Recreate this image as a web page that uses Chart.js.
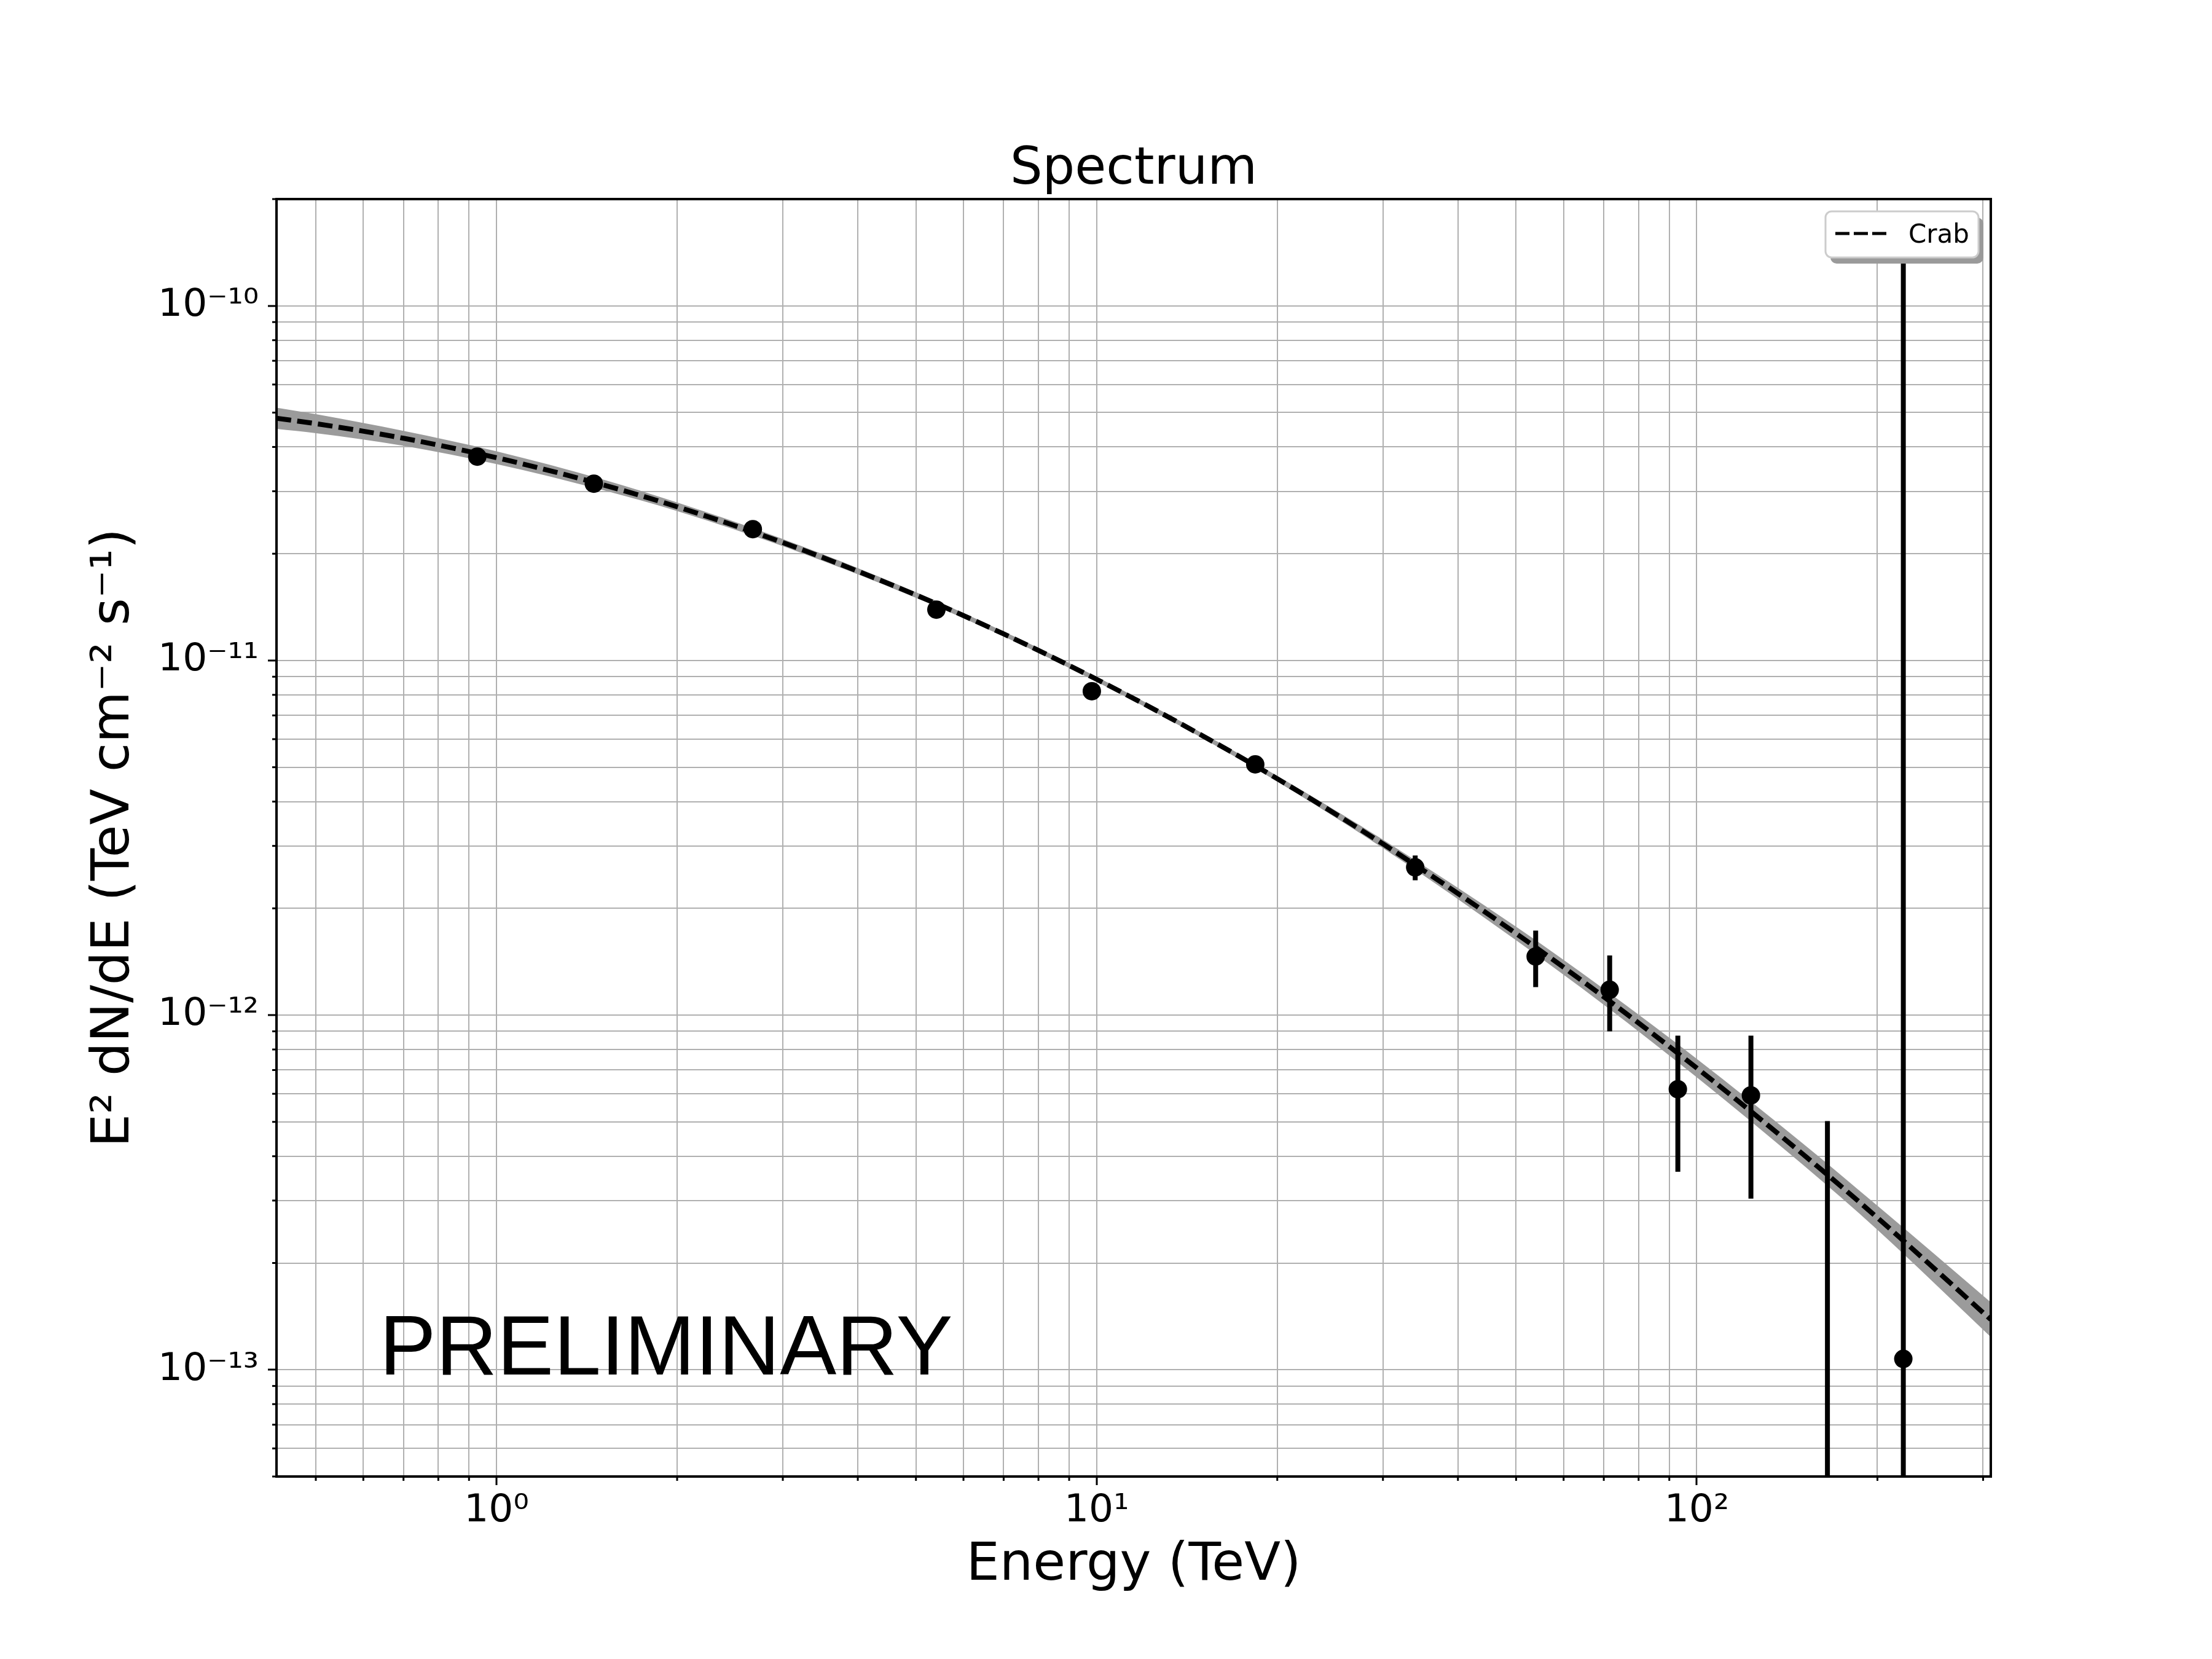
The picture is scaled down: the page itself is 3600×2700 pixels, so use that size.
<!DOCTYPE html>
<html lang="en">
<head>
    <meta charset="UTF-8">
    <title>Spectrum</title>
    <script src="https://cdn.jsdelivr.net/npm/chart.js"></script>
    <style>
        body { margin: 0; background: #fff; }
        canvas { display: block; }
    </style>
</head>
<body>

<canvas id="spectrum" width="3600" height="2700" style="width:3600px;height:2700px"></canvas>

<script>
    // model curve (E^2 dN/dE) and its error band
    const curveE  = [0.43, 0.5, 0.7, 1, 1.5, 2, 3, 5, 7, 10, 15, 20, 30, 50, 70, 100, 150, 200, 309];
    const curveF  = [4.819e-11, 4.654e-11, 4.232e-11, 3.731e-11, 3.133e-11, 2.713e-11, 2.150e-11, 1.530e-11, 1.188e-11,
                     8.851e-12, 6.140e-12, 4.641e-12, 3.039e-12, 1.699e-12, 1.126e-12, 7.093e-13, 4.064e-13, 2.683e-13, 1.385e-13];
    const bandHi  = [5.164e-11, 4.952e-11, 4.441e-11, 3.889e-11, 3.243e-11, 2.789e-11, 2.200e-11, 1.558e-11, 1.207e-11,
                     8.995e-12, 6.240e-12, 4.727e-12, 3.124e-12, 1.775e-12, 1.185e-12, 7.531e-13, 4.355e-13, 2.901e-13, 1.550e-13];
    const bandLo  = [4.497e-11, 4.374e-11, 4.032e-11, 3.580e-11, 3.027e-11, 2.639e-11, 2.101e-11, 1.502e-11, 1.169e-11,
                     8.709e-12, 6.042e-12, 4.556e-12, 2.957e-12, 1.626e-12, 1.070e-12, 6.681e-13, 3.793e-13, 2.481e-13, 1.237e-13];

    // flux points
    const pointE  = [0.929, 1.453, 2.674, 5.408, 9.818, 18.38, 33.95, 53.9, 71.6, 93.0, 123.1, 165.1, 220.9];
    const pointF  = [3.757e-11, 3.152e-11, 2.346e-11, 1.391e-11, 8.19e-12, 5.094e-12, 2.610e-12, 1.463e-12, 1.179e-12,
                     6.18e-13, 5.94e-13, null, 1.073e-13];
    const errLo   = [null, null, null, null, null, null, 2.400e-12, 1.199e-12, 9.0e-13, 3.617e-13, 3.038e-13, 1e-15, 1e-15];
    const errHi   = [null, null, null, null, null, null, 2.819e-12, 1.732e-12, 1.473e-12, 8.75e-13, 8.75e-13, 5.025e-13, 1.6e-10];

    // axis ranges and labelled ticks
    const xRange = [0.43, 309];
    const yRange = [5e-14, 2e-10];
    const xMajor = [1, 10, 100];
    const xMajorLabels = ['10\u2070', '10\u00B9', '10\u00B2'];
    const yMajor = [1e-13, 1e-12, 1e-11, 1e-10];
    const yMajorLabels = ['10\u207B\u00B9\u00B3', '10\u207B\u00B9\u00B2', '10\u207B\u00B9\u00B9', '10\u207B\u00B9\u2070'];

    const GRID = '#b0b0b0';

    function logTicks(scale) {
        const ticks = [];
        const lo = Math.floor(Math.log10(scale.min));
        const hi = Math.ceil(Math.log10(scale.max));
        for (let n = lo; n <= hi; n++) {
            for (let m = 1; m <= 9; m++) {
                const v = parseFloat(m + 'e' + n);
                if (v >= scale.min * 0.999 && v <= scale.max * 1.001) {
                    ticks.push({ value: v, major: m === 1 });
                }
            }
        }
        scale.ticks = ticks;
    }

    function labelFor(value, majors, labels) {
        for (let i = 0; i < majors.length; i++) {
            if (Math.abs(value / majors[i] - 1) < 1e-6) return labels[i];
        }
        return '';
    }

    const curvePts = curveE.map((e, i) => ({ x: e, y: curveF[i] }));
    const hiPts = curveE.map((e, i) => ({ x: e, y: bandHi[i] }));
    const loPts = curveE.map((e, i) => ({ x: e, y: bandLo[i] }));
    const fluxPts = pointE.map((e, i) => ({ x: e, y: pointF[i] }));

    // error bars are drawn right after the model line, so the markers sit on top
    const errorBars = {
        id: 'errorBars',
        afterDatasetDraw(chart, args) {
            if (args.index !== 1) return;
            const { ctx, chartArea, scales } = chart;
            ctx.save();
            ctx.beginPath();
            ctx.rect(chartArea.left, chartArea.top, chartArea.right - chartArea.left, chartArea.bottom - chartArea.top);
            ctx.clip();
            ctx.strokeStyle = '#000';
            ctx.lineWidth = 8;
            for (let i = 0; i < pointE.length; i++) {
                if (errLo[i] === null || errHi[i] === null) continue;
                const x = scales.x.getPixelForValue(pointE[i]);
                const y1 = Math.min(scales.y.getPixelForValue(errLo[i]), chartArea.bottom + 10);
                const y2 = scales.y.getPixelForValue(errHi[i]);
                ctx.beginPath();
                ctx.moveTo(x, y1);
                ctx.lineTo(x, y2);
                ctx.stroke();
            }
            ctx.restore();
        }
    };

    // frame, minor ticks, title, watermark and legend box
    const decorations = {
        id: 'decorations',
        afterDatasetsDraw(chart) {
            const { ctx, chartArea: a, scales } = chart;
            ctx.save();
            ctx.strokeStyle = '#000';
            ctx.lineWidth = 3;
            scales.x.ticks.forEach(t => {
                if (t.major) return;
                const px = scales.x.getPixelForValue(t.value);
                ctx.beginPath(); ctx.moveTo(px, a.bottom); ctx.lineTo(px, a.bottom + 7); ctx.stroke();
            });
            scales.y.ticks.forEach(t => {
                if (t.major) return;
                const py = scales.y.getPixelForValue(t.value);
                ctx.beginPath(); ctx.moveTo(a.left, py); ctx.lineTo(a.left - 7, py); ctx.stroke();
            });
            ctx.lineWidth = 4;
            ctx.strokeRect(a.left, a.top, a.right - a.left, a.bottom - a.top);
            ctx.restore();
        },
        afterDraw(chart) {
            const { ctx, chartArea: a } = chart;
            const w = a.right - a.left, h = a.bottom - a.top;
            ctx.save();
            ctx.fillStyle = '#000';
            ctx.textBaseline = 'alphabetic';

            ctx.font = '83px "DejaVu Sans"';
            ctx.textAlign = 'center';
            ctx.fillText('Spectrum', (a.left + a.right) / 2, a.top - 25);

            ctx.font = '138px "Liberation Sans"';
            ctx.textAlign = 'left';
            ctx.fillText('PRELIMINARY', a.left + 0.06 * w, a.bottom - 0.08 * h);

            // legend
            const bw = 249, bh = 75;
            const bx = a.right - 20 - bw, by = a.top + 20;
            ctx.fillStyle = '#9a9a9a';
            ctx.beginPath(); ctx.roundRect(bx + 8, by + 10, bw, bh, 10); ctx.fill();
            ctx.fillStyle = '#fff';
            ctx.strokeStyle = '#cccccc';
            ctx.lineWidth = 3;
            ctx.beginPath(); ctx.roundRect(bx, by, bw, bh, 10); ctx.fill(); ctx.stroke();
            ctx.strokeStyle = '#000';
            ctx.lineWidth = 5;
            ctx.setLineDash([23, 7]);
            ctx.beginPath(); ctx.moveTo(bx + 16, by + 36); ctx.lineTo(bx + 99, by + 36); ctx.stroke();
            ctx.setLineDash([]);
            ctx.fillStyle = '#000';
            ctx.font = '42px "DejaVu Sans"';
            ctx.fillText('Crab', bx + 135, by + 51);
            ctx.restore();
        }
    };

    Chart.defaults.font.family = '"DejaVu Sans"';
    Chart.defaults.color = '#000';

    new Chart(document.getElementById('spectrum'), {
        type: 'scatter',
        data: {
            datasets: [
                {
                    type: 'scatter',
                    label: 'Flux points',
                    data: fluxPts,
                    backgroundColor: '#000',
                    borderWidth: 0,
                    pointRadius: 15,
                    pointHoverRadius: 15
                },
                {
                    type: 'line',
                    label: 'Crab',
                    data: curvePts,
                    borderColor: '#000',
                    borderWidth: 8,
                    borderDash: [24, 10],
                    pointRadius: 0,
                    fill: false,
                    cubicInterpolationMode: 'monotone'
                },
                {
                    type: 'line',
                    label: 'band high',
                    data: hiPts,
                    borderWidth: 0,
                    pointRadius: 0,
                    backgroundColor: '#9b9b9b',
                    fill: '+1',
                    cubicInterpolationMode: 'monotone'
                },
                {
                    type: 'line',
                    label: 'band low',
                    data: loPts,
                    borderWidth: 0,
                    pointRadius: 0,
                    fill: false,
                    cubicInterpolationMode: 'monotone'
                }
            ]
        },
        options: {
            responsive: false,
            devicePixelRatio: 1,
            animation: false,
            events: [],
            layout: { padding: { top: 324, right: 360, bottom: 0, left: 0 } },
            plugins: {
                legend: { display: false },
                tooltip: { enabled: false },
                title: { display: false }
            },
            scales: {
                x: {
                    type: 'logarithmic',
                    min: xRange[0],
                    max: xRange[1],
                    bounds: 'data',
                    afterBuildTicks: logTicks,
                    afterFit: s => { s.height = 297; },
                    border: { display: false },
                    grid: {
                        color: GRID,
                        lineWidth: 2,
                        tickLength: 14,
                        tickWidth: 3,
                        tickColor: c => (c.tick && c.tick.major) ? '#000' : 'rgba(0,0,0,0)'
                    },
                    ticks: {
                        autoSkip: false,
                        maxRotation: 0,
                        minRotation: 0,
                        padding: 5,
                        font: { size: 63 },
                        callback: v => labelFor(v, xMajor, xMajorLabels)
                    },
                    title: {
                        display: true,
                        text: 'Energy (TeV)',
                        font: { size: 86 },
                        padding: { top: 0, bottom: 100 }
                    }
                },
                y: {
                    type: 'logarithmic',
                    min: yRange[0],
                    max: yRange[1],
                    bounds: 'data',
                    afterBuildTicks: logTicks,
                    afterFit: s => { s.width = 450; },
                    border: { display: false },
                    grid: {
                        color: GRID,
                        lineWidth: 2,
                        tickLength: 14,
                        tickWidth: 3,
                        tickColor: c => (c.tick && c.tick.major) ? '#000' : 'rgba(0,0,0,0)'
                    },
                    ticks: {
                        autoSkip: false,
                        padding: 15,
                        font: { size: 63 },
                        callback: v => labelFor(v, yMajor, yMajorLabels)
                    },
                    title: {
                        display: true,
                        text: 'E\u00B2 dN/dE (TeV cm\u207B\u00B2 s\u207B\u00B9)',
                        font: { size: 86 },
                        padding: { top: 135, bottom: 0 }
                    }
                }
            }
        },
        plugins: [errorBars, decorations]
    });
</script>

</body>
</html>
